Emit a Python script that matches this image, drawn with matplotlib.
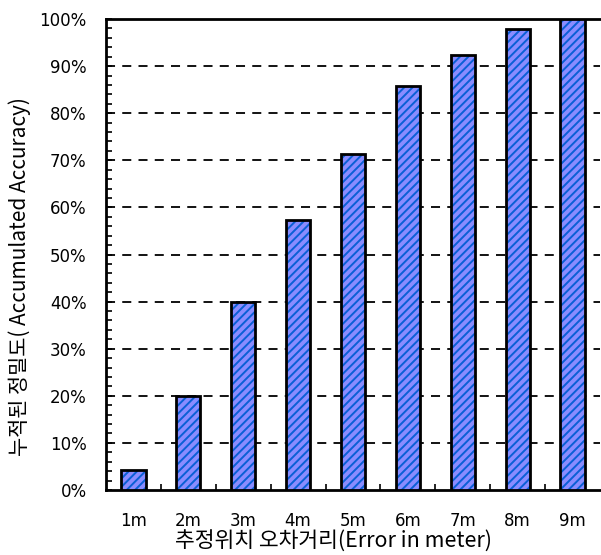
import matplotlib
matplotlib.use("Agg")
import matplotlib.pyplot as plt
from matplotlib.ticker import MultipleLocator, FuncFormatter

plt.rcParams['font.family'] = ['Noto Sans CJK KR', 'DejaVu Sans']
plt.rcParams['hatch.linewidth'] = 1.4

# data
categories = ["1m", "2m", "3m", "4m", "5m", "6m", "7m", "8m", "9m"]
accuracy = [4.3, 20.0, 40.0, 57.3, 71.3, 85.7, 92.4, 97.8, 100.0]
y_ticks = [0, 10, 20, 30, 40, 50, 60, 70, 80, 90, 100]

fig = plt.figure(figsize=(6.01, 5.55), dpi=100)
ax = fig.add_axes([106 / 601, 65 / 555, 494 / 601, 471 / 555])

x = range(len(categories))
# hatched fill first, then black outline on top
ax.bar(x, accuracy, width=0.44, facecolor="#8a8cff", edgecolor="#0a5fd6",
       hatch="////", linewidth=0, zorder=3)
ax.bar(x, accuracy, width=0.44, fill=False, edgecolor="black",
       linewidth=2, zorder=4)

ax.set_xlim(-0.5, len(categories) - 0.5)
ax.set_ylim(0, 100)

# dashed horizontal grid at each 10%
for v in y_ticks[1:-1]:
    ax.axhline(v, color="black", linestyle=(0, (5, 4)), linewidth=1.3, zorder=1)

tick_font = dict(family="DejaVu Sans", size=12)

ax.set_yticks(y_ticks)
ax.yaxis.set_major_formatter(FuncFormatter(lambda v, p: f"{int(v)}%"))
ax.yaxis.set_minor_locator(MultipleLocator(2))
ax.tick_params(axis="y", which="both", direction="in", length=4, width=1.2, pad=14)
for lbl in ax.get_yticklabels():
    lbl.set(**tick_font)

ax.set_xticks(list(x))
ax.set_xticklabels(categories, **tick_font)
ax.set_xticks([i + 0.5 for i in range(len(categories) - 1)], minor=True)
ax.tick_params(axis="x", which="major", length=0, pad=16)
ax.tick_params(axis="x", which="minor", direction="in", length=4, width=1.2)

for side in ["left", "bottom", "top"]:
    ax.spines[side].set_linewidth(2)
ax.spines["right"].set_visible(False)

fig.text(334 / 601, 1 - 542 / 555, "추정위치 오차거리(Error in meter)",
         fontsize=15.5, ha="center", va="center")
fig.text(20 / 601, 1 - 277 / 555, "누적된 정밀도( Accumulated Accuracy)",
         fontsize=15, ha="center", va="center", rotation=90)

fig.savefig("out.png", dpi=100)
